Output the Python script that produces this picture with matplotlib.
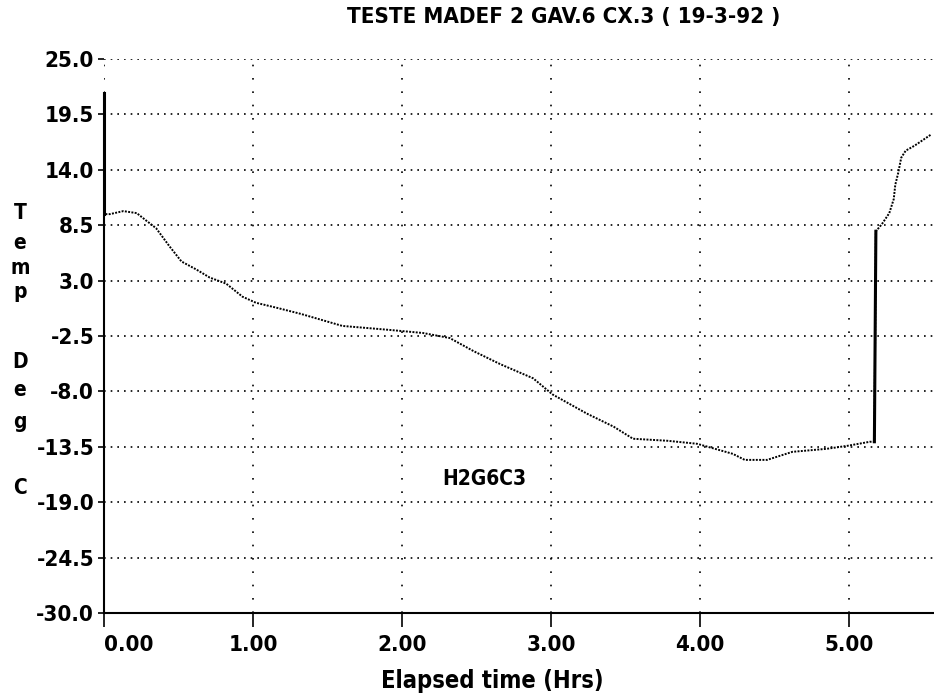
import matplotlib
matplotlib.use("Agg")
import matplotlib.pyplot as plt

# data
hours = [0.0, 0.0, 0.04, 0.13, 0.22, 0.28, 0.35, 0.44, 0.52, 0.62, 0.71, 0.82,
         0.93, 1.02, 1.16, 1.32, 1.60, 1.92, 2.14, 2.32, 2.48, 2.66, 2.88, 3.01,
         3.24, 3.42, 3.55, 3.78, 3.98, 4.22, 4.30, 4.45, 4.62, 4.85, 4.99, 5.14,
         5.17, 5.18, 5.22, 5.27, 5.30, 5.31, 5.33, 5.35, 5.38, 5.44, 5.49, 5.55]
temps = [21.6, 9.6, 9.6, 9.9, 9.7, 9.0, 8.2, 6.4, 4.9, 4.1, 3.3, 2.7,
         1.4, 0.8, 0.3, -0.3, -1.5, -1.9, -2.2, -2.7, -4.0, -5.3, -6.7, -8.3,
         -10.2, -11.5, -12.7, -12.9, -13.2, -14.2, -14.8, -14.8, -14.0, -13.7, -13.4, -13.0,
         -13.0, 7.9, 8.6, 9.7, 11.1, 12.5, 13.7, 15.2, 15.9, 16.4, 16.9, 17.5]

y_ticks = [25.0, 19.5, 14.0, 8.5, 3.0, -2.5, -8.0, -13.5, -19.0, -24.5, -30.0]
x_ticks = [0, 1, 2, 3, 4, 5]

title = "TESTE MADEF 2 GAV.6 CX.3 ( 19-3-92 )"
xlabel = "Elapsed time (Hrs)"
series_name = "H2G6C3"

plt.rcParams["font.family"] = ["DejaVu Sans"]
plt.rcParams["font.stretch"] = "condensed"
plt.rcParams["font.weight"] = "bold"

fig = plt.figure(figsize=(9.34, 7.0), dpi=100)
ax = fig.add_axes([0.1113, 0.1243, 0.8887, 0.7914])

ax.plot(hours, temps, color="black", lw=1.4, linestyle=(0, (1, 0.7)))
# the two near-vertical jumps are drawn heavier in the original
ax.plot(hours[:2], temps[:2], color="black", lw=2.2)
ax.plot(hours[36:38], temps[36:38], color="black", lw=2.2)

ax.set_xlim(0, 5.57)
ax.set_ylim(-30.0, 25.0)
ax.set_xticks(x_ticks)
ax.set_xticklabels([f"{v:.2f}" for v in x_ticks], fontsize=16)
ax.get_xticklabels()[0].set_horizontalalignment("left")
ax.set_yticks(y_ticks)
ax.set_yticklabels([f"{v:.1f}" for v in y_ticks], fontsize=16)

ax.tick_params(axis="x", direction="out", length=10, width=1.2, pad=6)
ax.tick_params(axis="y", direction="out", length=4, width=1.2, pad=3)

# dotted grid, sparser dots on the vertical lines
ax.grid(axis="y", color="black", lw=1.2, linestyle=(0, (1, 3)))
ax.grid(axis="x", color="black", lw=1.2, linestyle=(0, (1, 7)))

for s in ("top", "right"):
    ax.spines[s].set_visible(False)
ax.spines["left"].set_linewidth(1.5)
ax.spines["bottom"].set_linewidth(1.5)
ax.spines["left"].set_bounds(-30.0, 21.6)

ax.text(2.27, -16.7, series_name, fontsize=15, va="center", ha="left")

fig.text(0.603, 0.975, title, fontsize=16, ha="center", va="center")
fig.text(0.527, 0.027, xlabel, fontsize=17, ha="center", va="center")

# vertical stacked y label
letters = ["T", "e", "m", "p", "D", "e", "g", "C"]
letter_y = [213, 243, 268, 292, 362, 390, 422, 488]
for ch, py in zip(letters, letter_y):
    fig.text(20 / 934, 1 - py / 700, ch, fontsize=15, ha="center", va="center")

fig.savefig("out.png", dpi=100)
